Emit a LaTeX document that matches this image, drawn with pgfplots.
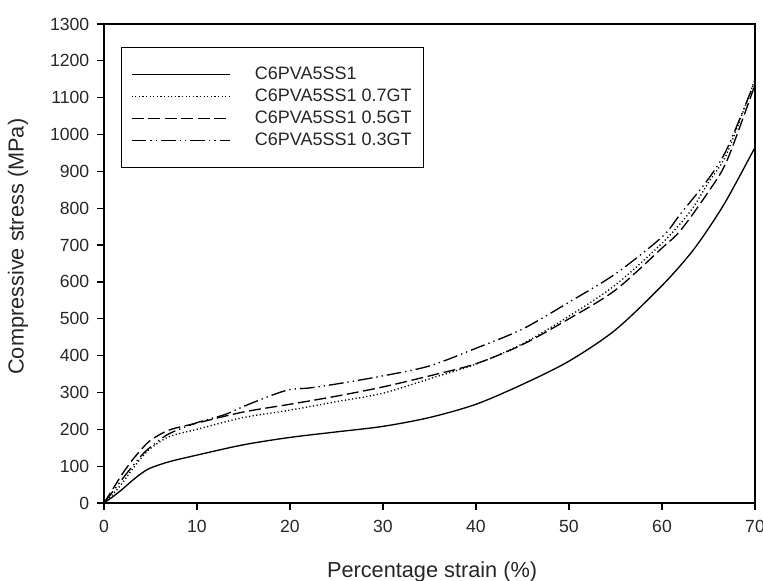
\documentclass[border=0pt]{standalone}
\usepackage{pgfplots}
\pgfplotsset{compat=1.18}
\usepackage{fontspec}
\setmainfont{Liberation Sans}
\begin{document}
\begin{tikzpicture}
\begin{axis}[
  at={(0,0)}, anchor=south west,
  scale only axis,
  width=488.25pt, height=359.25pt,
  xmin=0, xmax=70, ymin=0, ymax=1300,
  xtick={0,10,...,70}, ytick={0,100,...,1300},
  tick align=outside, xtick pos=bottom, ytick pos=left,
  major tick length=5pt,
  axis line style={line width=0.9pt},
  every tick/.style={line width=0.9pt, black},
  /pgf/number format/assume math mode=true,
  /pgf/number format/1000 sep={},
  tick label style={font=\fontsize{13.2}{15}\selectfont, color=black!85},
  xticklabel style={yshift=-4pt},
  yticklabel style={xshift=-2.5pt},
  xlabel={Percentage strain (\%)},
  ylabel={Compressive stress (MPa)},
  every axis x label/.style={at={(axis description cs:0.504,-0.144)}, anchor=center, font=\fontsize{16.3}{18}\selectfont, color=black!85},
  every axis y label/.style={at={(axis description cs:-0.132,0.535)}, rotate=90, anchor=center, font=\fontsize{16.3}{18}\selectfont, color=black!85},
  legend image code/.code={\draw[#1] (0pt,0pt) -- (74pt,0pt);},
  legend cell align=left,
  legend style={at={(axis description cs:0.026,0.952)}, anchor=north west,
    draw=black, line width=1pt, fill=white,
    font=\fontsize{13.5}{15}\selectfont,
    inner xsep=7pt, inner ysep=12pt, row sep=0pt, column sep=16pt,
    nodes={inner xsep=2pt, inner ysep=1.75pt, text height=10pt, text depth=3pt, color=black!85}},
  legend columns=1,
]
\addplot[black, line width=1pt, smooth] coordinates {
(0,0) (1,18) (2,38) (3,60) (4,80) (5,95) (7,112) (10,130) (15,158) (20,178) (25,193) (30,208) (35,232) (40,268) (45,322) (50,385) (55,470) (60,590) (63,675) (65,745) (67,825) (70,965)};
\addlegendentry{C6PVA5SS1}
\addplot[black, line width=1pt, smooth, dash pattern=on 0.9pt off 1.8pt] coordinates {
(0,0) (1,25) (2,55) (3,90) (4,122) (5,148) (7,180) (10,200) (15,232) (20,252) (25,275) (30,298) (35,337) (40,377) (45,432) (50,507) (55,592) (60,705) (63,790) (65,870) (67,950) (70,1150)};
\addlegendentry{C6PVA5SS1 0.7GT}
\addplot[black, line width=1pt, smooth, dash pattern=on 9pt off 3.4pt] coordinates {
(0,0) (1,40) (2,80) (3,115) (4,145) (5,170) (7,198) (10,217) (15,247) (20,268) (25,290) (30,315) (35,345) (40,378) (45,430) (50,500) (55,578) (60,692) (62,740) (65,845) (67,930) (70,1135)};
\addlegendentry{C6PVA5SS1 0.5GT}
\addplot[black, line width=1pt, smooth, dash pattern=on 11pt off 3pt on 1pt off 3pt on 1pt off 3pt] coordinates {
(0,0) (1,33) (2,66) (3,98) (4,128) (5,152) (7,188) (10,218) (13,240) (15,262) (18,292) (20,308) (22,312) (25,323) (30,345) (35,372) (40,420) (45,472) (50,545) (55,622) (60,722) (62,785) (65,880) (67,962) (70,1145)};
\addlegendentry{C6PVA5SS1 0.3GT}
\end{axis}
\pgfresetboundingbox
\useasboundingbox (-78pt,-58.5pt) rectangle (494.25pt,377.25pt);
\end{tikzpicture}
\end{document}
